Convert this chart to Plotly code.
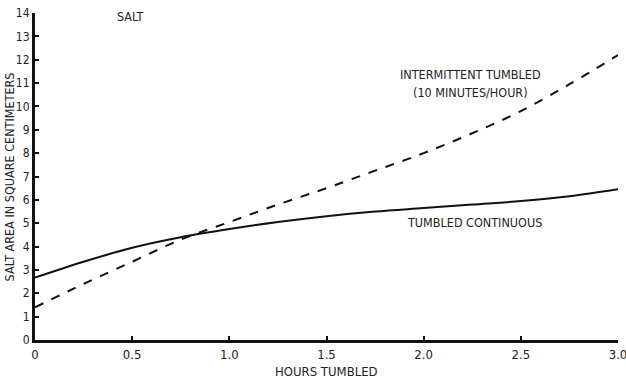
import plotly.graph_objects as go

hours = [0, 0.25, 0.5, 0.75, 1.0, 1.25, 1.5, 1.75, 2.0, 2.25, 2.5, 2.75, 3.0]
continuous = [2.67, 3.35, 3.95, 4.4, 4.75, 5.05, 5.3, 5.5, 5.65, 5.8, 5.95, 6.15, 6.45]
intermittent = [1.4, 2.4, 3.35, 4.3, 5.05, 5.8, 6.5, 7.25, 8.0, 8.85, 9.8, 10.95, 12.2]

x_tickvals = [0, 0.5, 1.0, 1.5, 2.0, 2.5, 3.0]
x_ticktext = ["0", "0.5", "1.0", "1.5", "2.0", "2.5", "3.0"]
y_tickvals = list(range(0, 15))
y_ticktext = [str(v) for v in y_tickvals]

FONT = "DejaVu Sans Condensed, Liberation Sans Narrow, Arial Narrow, sans-serif"
INK = "#222222"

fig = go.Figure()
fig.add_trace(go.Scatter(x=hours, y=continuous, mode="lines", line=dict(color="#111111", width=2, shape="spline"),
                         showlegend=False, name="Tumbled continuous"))
fig.add_trace(go.Scatter(x=hours, y=intermittent, mode="lines",
                         line=dict(color="#111111", width=2, dash="dash", shape="spline"),
                         showlegend=False, name="Intermittent tumbled"))

fig.update_layout(
    width=626, height=381,
    margin=dict(l=35, r=8, t=13, b=41),
    paper_bgcolor="white", plot_bgcolor="white",
    font=dict(family=FONT, size=12, color=INK),
    xaxis=dict(range=[0, 3.0], tickvals=x_tickvals, ticktext=x_ticktext, automargin=False,
               ticklabeloverflow="allow", tickfont=dict(size=13),
               showgrid=False, zeroline=False, showline=True, linewidth=3, linecolor="#111111",
               ticks="inside", ticklen=4, tickwidth=1.5, tickcolor="#111111"),
    yaxis=dict(range=[0, 14], tickvals=y_tickvals, ticktext=y_ticktext, automargin=False,
               ticklabeloverflow="allow", tickfont=dict(size=12),
               showgrid=False, zeroline=False, showline=True, linewidth=3, linecolor="#111111",
               ticks="inside", ticklen=4, tickwidth=1.5, tickcolor="#111111"),
)

fig.add_annotation(x=0.5, y=-0.095, xref="paper", yref="paper", text="HOURS TUMBLED", showarrow=False,
                   xanchor="center", yanchor="middle", font=dict(size=13))
fig.add_annotation(x=-0.043, y=0.5, xref="paper", yref="paper", text="SALT AREA IN SQUARE CENTIMETERS",
                   showarrow=False, textangle=-90, xanchor="center", yanchor="middle", font=dict(size=12.5))

fig.add_annotation(x=0.49, y=13.85, xref="x", yref="y", text="SALT", showarrow=False,
                   xanchor="center", yanchor="middle", font=dict(size=12.5))
fig.add_annotation(x=2.24, y=11.35, xref="x", yref="y", text="INTERMITTENT TUMBLED", showarrow=False,
                   xanchor="center", yanchor="middle", font=dict(size=12.5))
fig.add_annotation(x=2.24, y=10.6, xref="x", yref="y", text="(10 MINUTES/HOUR)", showarrow=False,
                   xanchor="center", yanchor="middle", font=dict(size=12.5))
fig.add_annotation(x=2.26, y=5.05, xref="x", yref="y", text="TUMBLED CONTINUOUS", showarrow=False,
                   xanchor="center", yanchor="middle", font=dict(size=12.5))

fig.write_html("out.html", config={"displayModeBar": False},
               post_script="document.body.style.margin='0';")
